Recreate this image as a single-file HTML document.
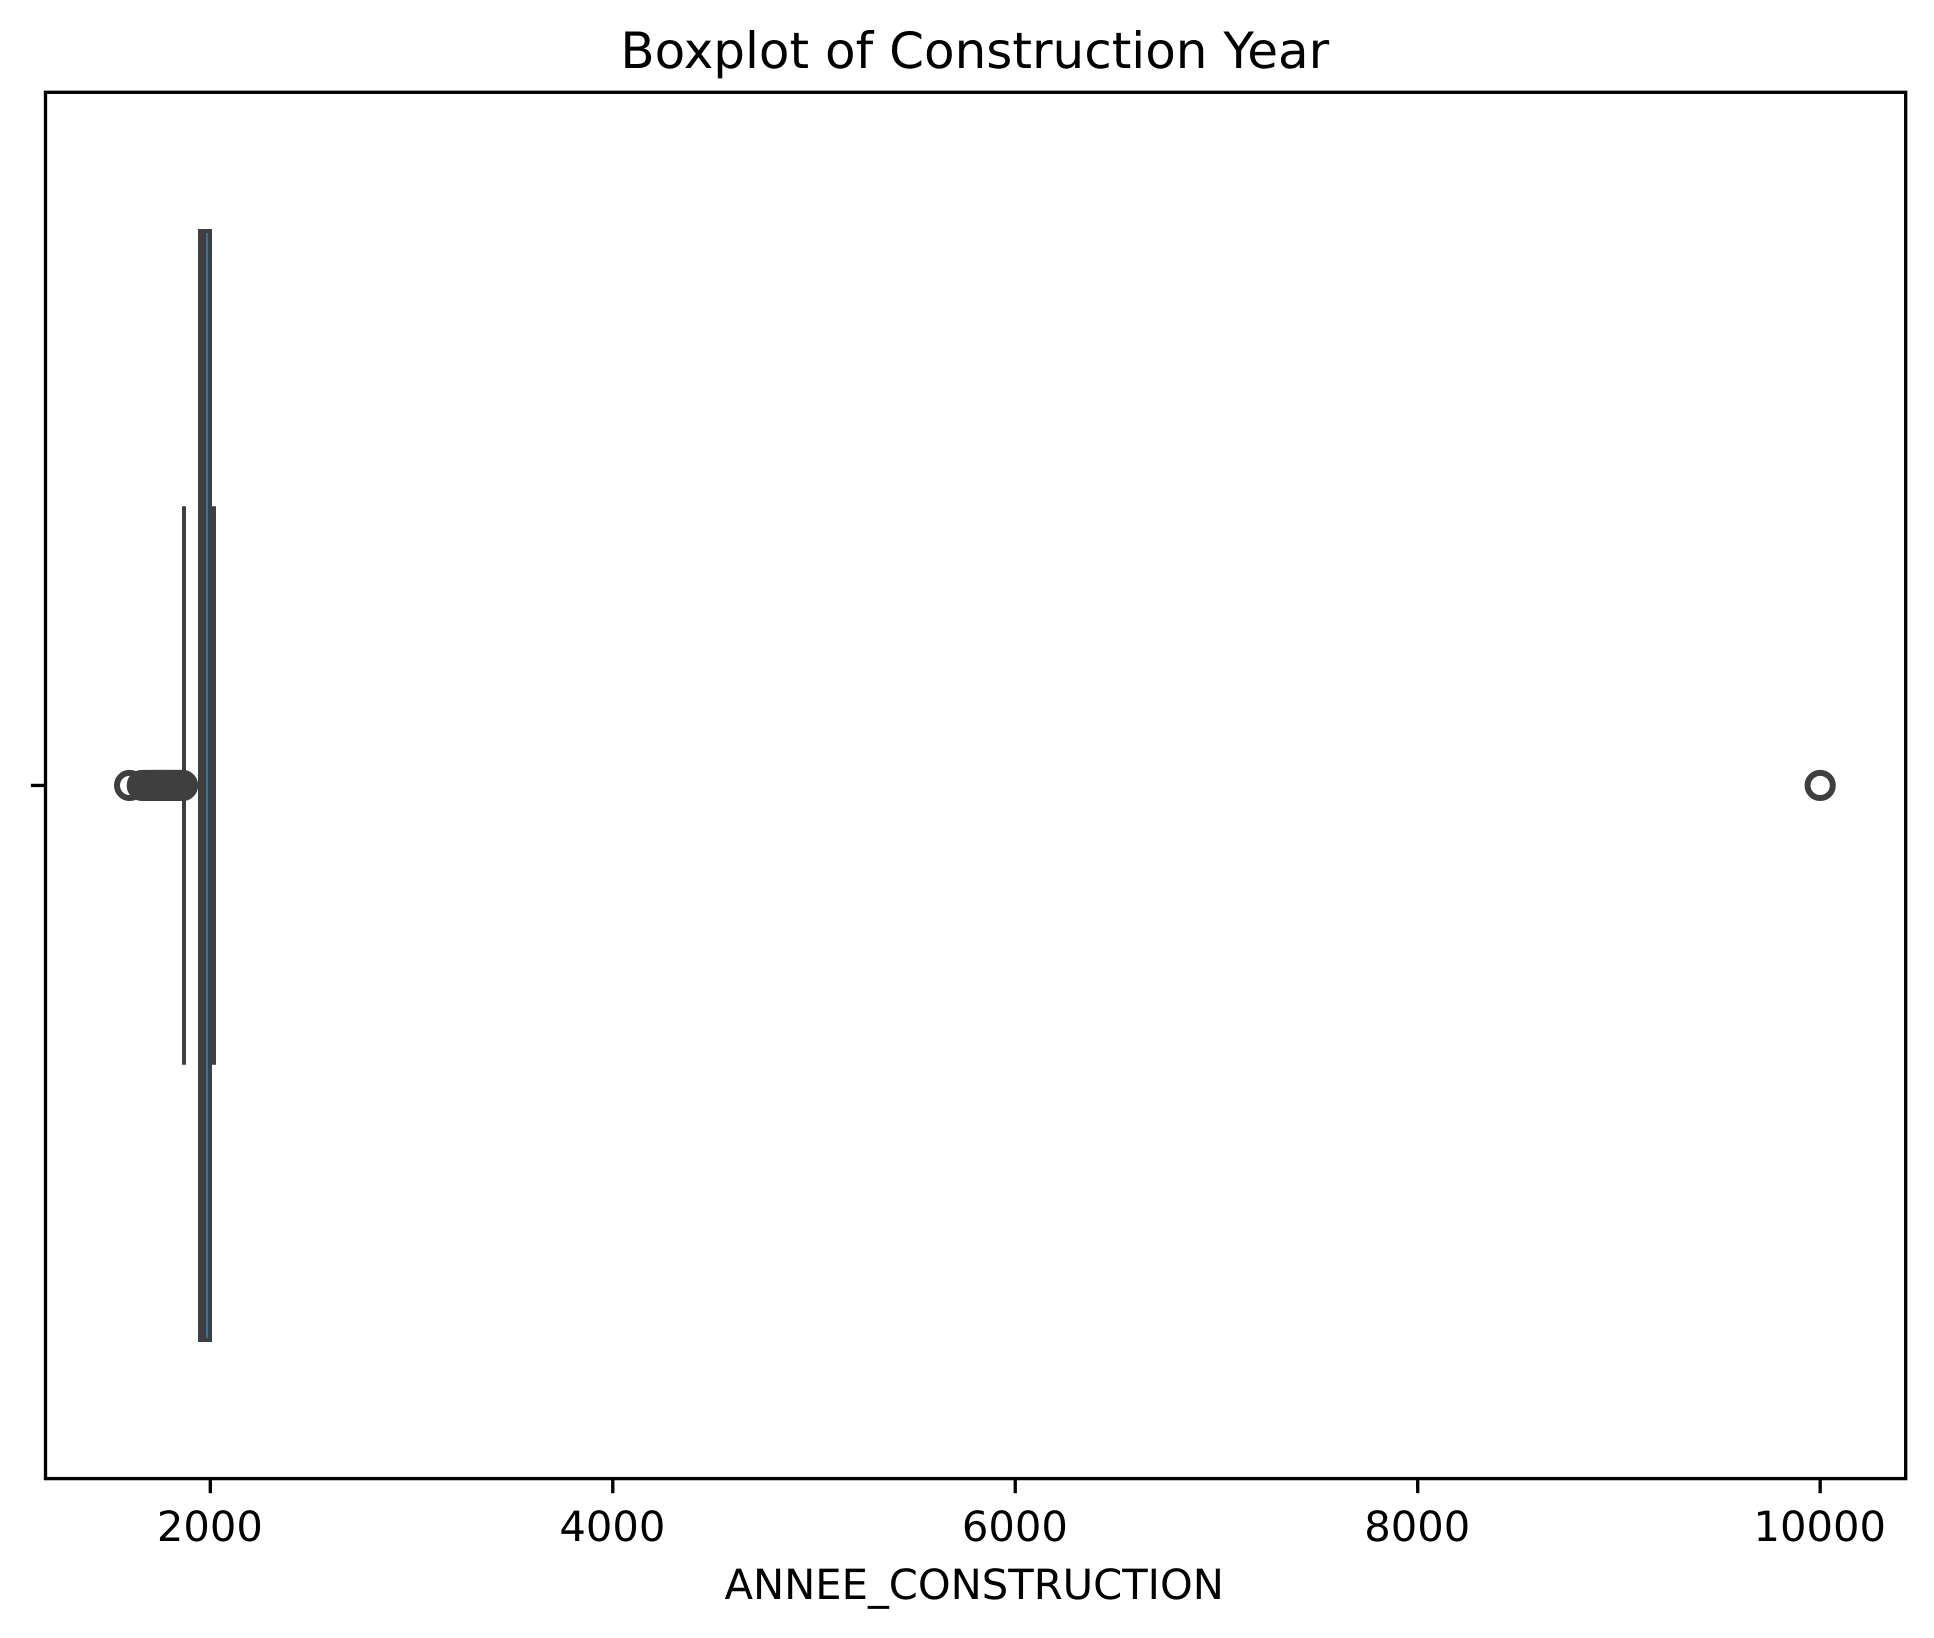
<!DOCTYPE html>
<html lang="en">
<head>
<meta charset="utf-8">
<title>Boxplot of Construction Year</title>
<style>
  html, body { margin: 0; padding: 0; background: #fff; }
  body { width: 1934px; height: 1638px; overflow: hidden; }
  svg { display: block; }
  text { font-family: "DejaVu Sans", "Liberation Sans", sans-serif; fill: #000; text-rendering: geometricPrecision; }
</style>
</head>
<body>
<svg id="chart" xmlns="http://www.w3.org/2000/svg" width="1934" height="1638" viewBox="0 0 1934 1638">
  <rect x="0" y="0" width="1934" height="1638" fill="#ffffff"/>
  <g id="marks"></g>
  <rect x="45.5" y="92.3" width="1860.2" height="1386.3" fill="none" stroke="#000" stroke-width="3.33"/>
  <g id="ticks"></g>
  <text x="974.8" y="68" font-size="50" text-anchor="middle">Boxplot of Construction Year</text>
  <text x="974.2" y="1599" font-size="41.67" text-anchor="middle">ANNEE_CONSTRUCTION</text>
</svg>
<script>
const xTicks = [2000, 4000, 6000, 8000, 10000];
const xTickLabels = ["2000", "4000", "6000", "8000", "10000"];
const boxQ1 = 1949;
const boxMedian = 1969;
const boxQ3 = 1999;
const whiskerLow = 1869;
const whiskerHigh = 2018;
const fliers = [1599, 1662, 1670, 1680, 1685, 1690, 1700, 1710, 1715, 1720, 1725, 1730, 1735, 1740, 1745, 1750,
  1755, 1760, 1765, 1770, 1775, 1780, 1785, 1790, 1795, 1800, 1805, 1810, 1815, 1820, 1825, 1830, 1835, 1840,
  1845, 1850, 1855, 1860, 1862, 10000];

const NS = "http://www.w3.org/2000/svg";
const xDomain = [1181, 10425];
const yDomain = [-0.5, 0.5];
const plotLeft = 45.5, plotRight = 1905.7, plotTop = 92.3, plotBottom = 1478.6;
const LINE = "#3f3f3f", FILL = "#3274a1", LW = 4;

function xScale(v) { return plotLeft + (v - xDomain[0]) / (xDomain[1] - xDomain[0]) * (plotRight - plotLeft); }
function yScale(p) { return plotTop + (p - yDomain[0]) / (yDomain[1] - yDomain[0]) * (plotBottom - plotTop); }
function xSnap(v) { return Math.round(xScale(v)); }

function make(parent, tag, attrs) {
  const el = document.createElementNS(NS, tag);
  Object.keys(attrs).forEach(function (k) { el.setAttribute(k, attrs[k]); });
  parent.appendChild(el);
  return el;
}

const marks = document.getElementById("marks");
const ticks = document.getElementById("ticks");
const yMid = yScale(0);

fliers.forEach(function (v) {
  const c = make(marks, "circle", { cx: xScale(v), cy: yMid, r: 12.6, fill: "none", stroke: LINE, "stroke-width": 6 });
  
  
});

const boxLeft = xSnap(boxQ1), boxRight = xSnap(boxQ3);
const boxTop = Math.round(yScale(-0.4)), boxBottom = Math.round(yScale(0.4));

const box = make(marks, "rect", { x: boxLeft, y: boxTop, width: boxRight - boxLeft, height: boxBottom - boxTop, fill: FILL, stroke: LINE, "stroke-width": LW });



const median = make(marks, "line", { x1: xSnap(boxMedian), x2: xSnap(boxMedian), y1: boxTop, y2: boxBottom, stroke: LINE, "stroke-width": LW });



const whiskerLowLine = make(marks, "line", { x1: xSnap(whiskerLow), x2: boxLeft, y1: yMid, y2: yMid, stroke: LINE, "stroke-width": LW });



const whiskerHighLine = make(marks, "line", { x1: boxRight, x2: xSnap(whiskerHigh), y1: yMid, y2: yMid, stroke: LINE, "stroke-width": LW });



const capLow = make(marks, "line", { x1: xSnap(whiskerLow), x2: xSnap(whiskerLow), y1: yScale(-0.2), y2: yScale(0.2), stroke: LINE, "stroke-width": LW, "stroke-linecap": "square" });



const capHigh = make(marks, "line", { x1: xSnap(whiskerHigh), x2: xSnap(whiskerHigh), y1: yScale(-0.2), y2: yScale(0.2), stroke: LINE, "stroke-width": LW, "stroke-linecap": "square" });



xTicks.forEach(function (v, i) {
  const px = xScale(v);
  const tick = make(ticks, "line", { x1: px, x2: px, y1: plotBottom, y2: plotBottom + 14.6, stroke: "#000", "stroke-width": 3.33 });
  
  
  const label = make(ticks, "text", { x: px - 0.4, y: 1541, "font-size": 41.67, "text-anchor": "middle" });
  label.textContent = xTickLabels[i];
  
  
});

const yTick = make(ticks, "line", { x1: plotLeft - 14.6, x2: plotLeft, y1: yMid, y2: yMid, stroke: "#000", "stroke-width": 3.33 });


</script>
</body>
</html>
